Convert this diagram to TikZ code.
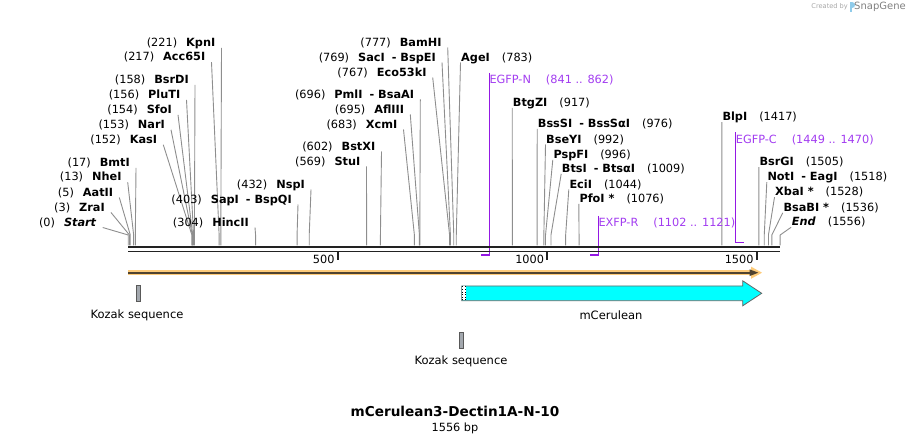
\documentclass[tikz,border=0pt]{standalone}
\usepackage{fontspec}
\setmainfont{DejaVu Sans}
\definecolor{cutgray}{HTML}{8E8E8E}
\definecolor{prim}{HTML}{A23CF0}
\definecolor{primline}{HTML}{9418E4}
\definecolor{bb}{HTML}{222222}
\definecolor{orfill}{HTML}{FDCB7A}
\definecolor{ordark}{HTML}{4F4330}
\definecolor{cyanf}{HTML}{00FFFF}
\definecolor{kozakc}{HTML}{A3A8AE}
\definecolor{logoc}{HTML}{8FCBEA}
\tikzset{
  lbl/.style={font=\fontsize{11.3}{13}\selectfont, inner sep=0pt, text height=8.2pt, text depth=0pt},
  plbl/.style={lbl, text=prim},
  flbl/.style={font=\fontsize{11.5}{13}\selectfont, inner sep=0pt},
  cut/.style={draw=cutgray, line width=0.9pt},
  pline/.style={draw=primline, line width=1.2pt},
  bbline/.style={draw=bb},
}
\newcommand\enzL[6]{%
  \coordinate (s#1) at ({128.2+0.419*#6},245.5);
  \coordinate (b#1) at ({128.2+0.419*#6},235);
  \node[lbl,anchor=east] (#1) at (#2,#3) {(#4)\hspace{9pt}#5};
  \draw[cut] ([shift={(6,5.5)}]#1.east) -- (b#1) -- (s#1);
}
\newcommand\enzR[6]{%
  \coordinate (s#1) at ({128.2+0.419*#6},245.5);
  \coordinate (b#1) at ({128.2+0.419*#6},235);
  \node[lbl,anchor=west] (#1) at (#2,#3) {#5\hspace{12pt}(#4)};
  \draw[cut] ([shift={(-0.5,5.5)}]#1.west) -- (b#1) -- (s#1);
}
\begin{document}
\begin{tikzpicture}[x=1pt,y=-1pt]
\useasboundingbox (0,0) rectangle (910,443);
% left-side enzyme labels
\enzL{KpnI}{215.5}{42.3}{221}{\textbf{KpnI}}{221}
\enzL{AccI}{205.5}{56.7}{217}{\textbf{Acc65I}}{217}
\enzL{BsrDI}{189}{79.5}{158}{\textbf{BsrDI}}{158}
\enzL{PluTI}{180.5}{94.3}{156}{\textbf{PluTI}}{156}
\enzL{SfoI}{172}{109.3}{154}{\textbf{SfoI}}{154}
\enzL{NarI}{165}{124.3}{153}{\textbf{NarI}}{153}
\enzL{KasI}{157.3}{139.3}{152}{\textbf{KasI}}{152}
\enzL{BmtI}{130}{162.3}{17}{\textbf{BmtI}}{17}
\enzL{NheI}{121.7}{176.7}{13}{\textbf{NheI}}{13}
\enzL{AatII}{113.3}{192}{5}{\textbf{AatII}}{5}
\enzL{ZraI}{105}{207}{3}{\textbf{ZraI}}{3}
\enzL{Start}{96.7}{222}{0}{\textbf{\textit{Start}}}{0}
\enzL{HincII}{249}{222}{304}{\textbf{HincII}}{304}
\enzL{SapI}{292}{199}{403}{\textbf{SapI}\hspace{7pt}\textbf{- BspQI}}{403}
\enzL{NspI}{305}{184}{432}{\textbf{NspI}}{432}
\enzL{StuI}{360.5}{161}{569}{\textbf{StuI}}{569}
\enzL{BstXI}{375.5}{146}{602}{\textbf{BstXI}}{602}
\enzL{XcmI}{397.5}{124}{683}{\textbf{XcmI}}{683}
\enzL{AflIII}{404.3}{109}{695}{\textbf{AflIII}}{695}
\enzL{PmlI}{414.3}{94}{696}{\textbf{PmlI}\hspace{7pt}\textbf{- BsaAI}}{696}
\enzL{EcoI}{426.7}{72}{767}{\textbf{Eco53kI}}{767}
\enzL{SacI}{436}{57}{769}{\textbf{SacI}\hspace{7pt}\textbf{- BspEI}}{769}
\enzL{BamHI}{441.7}{42}{777}{\textbf{BamHI}}{777}
% right-side enzyme labels
\enzR{AgeI}{461}{57}{783}{\textbf{AgeI}}{783}
\enzR{BtgZI}{512.7}{102.3}{917}{\textbf{BtgZI}}{917}
\enzR{BssSI}{537.7}{123.3}{976}{\textbf{BssSI}\hspace{7pt}\textbf{- BssSαI}}{976}
\enzR{BseYI}{546}{139}{992}{\textbf{BseYI}}{992}
\enzR{PspFI}{553.3}{154.3}{996}{\textbf{PspFI}}{996}
\enzR{BtsI}{561.7}{168.3}{1009}{\textbf{BtsI}\hspace{7pt}\textbf{- BtsαI}}{1009}
\enzR{EciI}{569.3}{184}{1044}{\textbf{EciI}}{1044}
\enzR{PfoI}{579.3}{198.3}{1076}{\textbf{PfoI *}}{1076}
\enzR{BlpI}{722.3}{116.7}{1417}{\textbf{BlpI}}{1417}
\enzR{BsrGI}{759.3}{161.7}{1505}{\textbf{BsrGI}}{1505}
\enzR{NotI}{767.3}{176.7}{1518}{\textbf{NotI}\hspace{7pt}\textbf{- EagI}}{1518}
\enzR{XbaI}{775}{191.7}{1528}{\textbf{XbaI *}}{1528}
\enzR{BsaBI}{783.3}{207.3}{1536}{\textbf{BsaBI *}}{1536}
\enzR{End}{791.7}{221.7}{1556}{\textbf{\textit{End}}}{1556}
% primers
\node[plbl,anchor=west] (pN) at (489.3,79) {EGFP-N\hspace{15pt}(841 .. 862)};
\coordinate (pNa) at (489.3,255);
\coordinate (pNb) at (480.6,255);
\draw[pline] ([yshift=6]pN.west) -- (pNa) -- (pNb);
\node[plbl,anchor=west] (pR) at (598.3,222) {EXFP-R\hspace{15pt}(1102 .. 1121)};
\coordinate (pRa) at (598.3,255);
\coordinate (pRb) at (589.9,255);
\draw[pline] ([yshift=6]pR.west) -- (pRa) -- (pRb);
\node[plbl,anchor=west] (pC) at (735.7,139) {EGFP-C\hspace{15pt}(1449 .. 1470)};
\coordinate (pCa) at (735.7,242.7);
\coordinate (pCb) at (744.1,242.7);
\draw[pline] ([yshift=6.5]pC.west) -- (pCa) -- (pCb);
% backbone
\coordinate (bbA) at (128.2,246.8);
\coordinate (bbB) at (780.2,246.8);
\coordinate (bbC) at (128.2,251.4);
\coordinate (bbD) at (780.2,251.4);
\draw[bbline, line width=2.2pt] (bbA) -- (bbB);
\draw[bbline, line width=1.7pt] (bbC) -- (bbD);
% ticks
\foreach \p/\n in {500/t5,1000/t10,1500/t15}{
  \coordinate (\n a) at ({128.2+0.419*\p},252);
  \coordinate (\n b) at ({128.2+0.419*\p},259.8);
  \draw[bbline, line width=1.8pt] (\n a) -- (\n b);
  \node[lbl,anchor=east] (\n) at ({128.2+0.419*\p-3},259.3) {\p};
}
% orange ORF arrow
\coordinate (oA) at (128.2,272.7);
\coordinate (oB) at (753,272.7);
\draw[draw=orfill, line width=5.6pt] (oA) -- (oB);
\fill[orfill] (751,266.6) -- (762,272.7) -- (751,278.8) -- cycle;
\draw[draw=ordark, line width=1.9pt] (oA) -- (751,272.7);
\fill[ordark] (749.5,269.3) -- (758.3,272.7) -- (749.5,276.1) -- cycle;
% mCerulean feature
\filldraw[fill=cyanf, draw=black!60, line width=0.8pt]
  (461.7,286) -- (742.7,286) -- (742.7,280.8) -- (761.7,293.3) -- (742.7,305.8) -- (742.7,300.7) -- (461.7,300.7) -- cycle;
\fill[white] (462.1,286.4) rectangle (466,300.3);
\draw[black, line width=0.6pt, dotted] (462.6,286.4) -- (462.6,300.3);
\draw[black, line width=0.6pt, dotted] (465.3,286.4) -- (465.3,300.3);
\node[flbl] (mcer) at (611,315) {mCerulean};
% Kozak sequences
\filldraw[fill=kozakc, draw=black!65, line width=0.6pt] (136.5,285.7) rectangle (140.5,301);
\node[flbl] (koz1) at (137,315) {Kozak sequence};
\filldraw[fill=kozakc, draw=black!65, line width=0.6pt] (459.4,332.5) rectangle (463.4,348.3);
\node[flbl] (koz2) at (461,361) {Kozak sequence};
% title
\node[font=\fontsize{13.6}{16}\selectfont\bfseries, inner sep=0pt] (title) at (455,411.5) {mCerulean3-Dectin1A-N-10};
\node[font=\fontsize{11.3}{13}\selectfont, inner sep=0pt] (bp) at (455,428) {1556 bp};
% watermark
\node[font=\fontsize{6.6}{8}\selectfont, text=black!35, inner sep=0pt, anchor=east] (cb) at (848,7) {Created by};
\fill[logoc] (850.3,2.2) rectangle (852.3,12);
\fill[logoc] (852.3,2.2) .. controls (856.3,2.2) and (856.3,7.6) .. (852.3,7.6) -- cycle;
\node[font=\fontsize{10}{12}\selectfont, text=black!50, inner sep=0pt, anchor=west] (sg) at (854,7) {SnapGene};
\end{tikzpicture}
\end{document}
